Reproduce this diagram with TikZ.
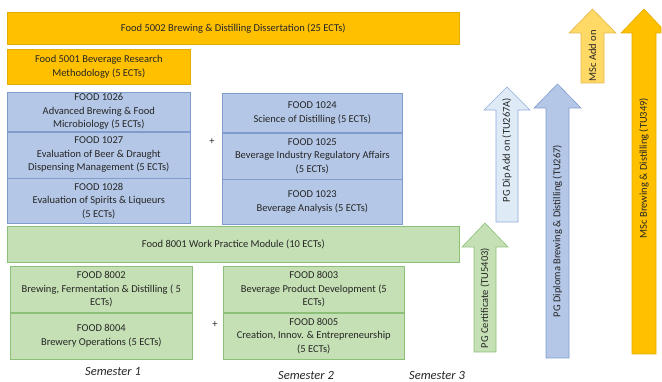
\documentclass[tikz,border=0pt]{standalone}
\usepackage{fontspec}
\setmainfont{Carlito}
\usepackage{xcolor}
\usetikzlibrary{positioning}

\definecolor{gold}{HTML}{FFC000}
\definecolor{goldline}{HTML}{E3AC00}
\definecolor{lightgold}{HTML}{FFD966}
\definecolor{lightgoldline}{HTML}{E2B74A}
\definecolor{modblue}{HTML}{B4C7E7}
\definecolor{modblueline}{HTML}{7F9CCC}
\definecolor{paleblue}{HTML}{DEEBF7}
\definecolor{paleblueline}{HTML}{8FAADC}
\definecolor{modgreen}{HTML}{C5E0B4}
\definecolor{modgreenline}{HTML}{8CC078}
\definecolor{inktext}{HTML}{262626}

\begin{document}
\begin{tikzpicture}[
    x=1pt, y=-1pt,
    every node/.style={text=inktext, font=\fontsize{10.5}{13.5}\selectfont, align=center, inner sep=0pt},
    module/.style={draw, line width=0.6pt, anchor=north west},
    goldbox/.style={module, fill=gold, draw=goldline},
    bluebox/.style={module, fill=modblue, draw=modblueline},
    greenbox/.style={module, fill=modgreen, draw=modgreenline},
    upshape/.style={line width=0.6pt},
    arrowtext/.style={rotate=90},
    semester/.style={font=\fontsize{12.5}{14}\selectfont\itshape}
]
\useasboundingbox (0,0) rectangle (662,382);

% semester 3 modules
\node (f5002) [goldbox, minimum width=452pt, minimum height=32pt] at (7,12) {Food 5002 Brewing \& Distilling Dissertation (25 ECTs)};
\node (f5001) [goldbox, minimum width=183pt, minimum height=35pt] at (7,49) {Food 5001 Beverage Research\\Methodology (5 ECTs)};

% semester 2 modules
\node (f1026) [bluebox, minimum width=183pt, minimum height=39pt] at (7,92) {FOOD 1026\\Advanced Brewing \& Food\\Microbiology (5 ECTs)};
\node (f1027) [bluebox, minimum width=183pt, minimum height=46pt, anchor=north] [below=0pt of f1026] {FOOD 1027\\Evaluation of Beer \& Draught\\Dispensing Management (5 ECTs)};
\node (f1028) [bluebox, minimum width=183pt, minimum height=45pt, anchor=north] [below=0pt of f1027] {FOOD 1028\\Evaluation of Spirits \& Liqueurs\\(5 ECTs)};
\node (f1024) [bluebox, minimum width=180pt, minimum height=39pt] at (222,93) {FOOD 1024\\Science of Distilling (5 ECTs)};
\node (f1025) [bluebox, minimum width=180pt, minimum height=46pt, anchor=north] [below=0pt of f1024] {FOOD 1025\\Beverage Industry Regulatory Affairs\\(5 ECTs)};
\node (f1023) [bluebox, minimum width=180pt, minimum height=45pt, anchor=north] [below=0pt of f1025] {FOOD 1023\\Beverage Analysis (5 ECTs)};
\node (plusb) at (212,142) {+};

% semester 1 modules
\node (f8001) [greenbox, minimum width=452pt, minimum height=36pt] at (7,226) {Food 8001 Work Practice Module (10 ECTs)};
\node (f8002) [greenbox, minimum width=182pt, minimum height=46pt] at (10,266) {FOOD 8002\\Brewing, Fermentation \& Distilling ( 5\\ECTs)};
\node (f8004) [greenbox, minimum width=182pt, minimum height=46pt, anchor=north] [below=0pt of f8002] {FOOD 8004\\Brewery Operations (5 ECTs)};
\node (f8003) [greenbox, minimum width=181pt, minimum height=46pt] at (223,266) {FOOD 8003\\Beverage Product Development (5\\ECTs)};
\node (f8005) [greenbox, minimum width=181pt, minimum height=46pt, anchor=north] [below=0pt of f8003] {FOOD 8005\\Creation, Innov. \& Entrepreneurship\\(5 ECTs)};
\node (plusg) at (215,325) {+};

% semesters
\node (sem1) [semester] at (113,371) {Semester 1};
\node (sem2) [semester] at (306,375) {Semester 2};
\node (sem3) [semester] at (437,375) {Semester 3};

% award arrows
\draw[upshape, fill=modgreen, draw=modgreenline] (474,352) -- (474,247) -- (462,247) -- (485,223) -- (508,247) -- (496,247) -- (496,352) -- cycle;
\node (cert) [arrowtext] at (485,298) {PG Certificate (TU5403)};
\draw[upshape, fill=paleblue, draw=paleblueline] (496,222) -- (496,110) -- (484,110) -- (507,87) -- (530,110) -- (518,110) -- (518,222) -- cycle;
\node (dipadd) [arrowtext] at (507,150) {PG Dip Add on (TU267A)};
\draw[upshape, fill=modblue, draw=modblueline] (546,358) -- (546,108) -- (534,108) -- (557.5,84) -- (581,108) -- (569,108) -- (569,358) -- cycle;
\node (dip) [arrowtext] at (557.5,231) {PG Diploma Brewing \& Distilling (TU267)};
\draw[upshape, fill=lightgold, draw=lightgoldline] (581,83) -- (581,33) -- (569,33) -- (592.5,9) -- (616,33) -- (604,33) -- (604,83) -- cycle;
\node (mscadd) [arrowtext] at (592.5,56) {MSc Add on};
\draw[upshape, fill=gold, draw=goldline] (632,354) -- (632,33) -- (621,33) -- (644,9) -- (661,27) -- (661,33) -- (656,33) -- (656,354) -- cycle;
\node (msc) [arrowtext] at (644,168) {MSc Brewing \& Distilling (TU349)};
\end{tikzpicture}
\end{document}
